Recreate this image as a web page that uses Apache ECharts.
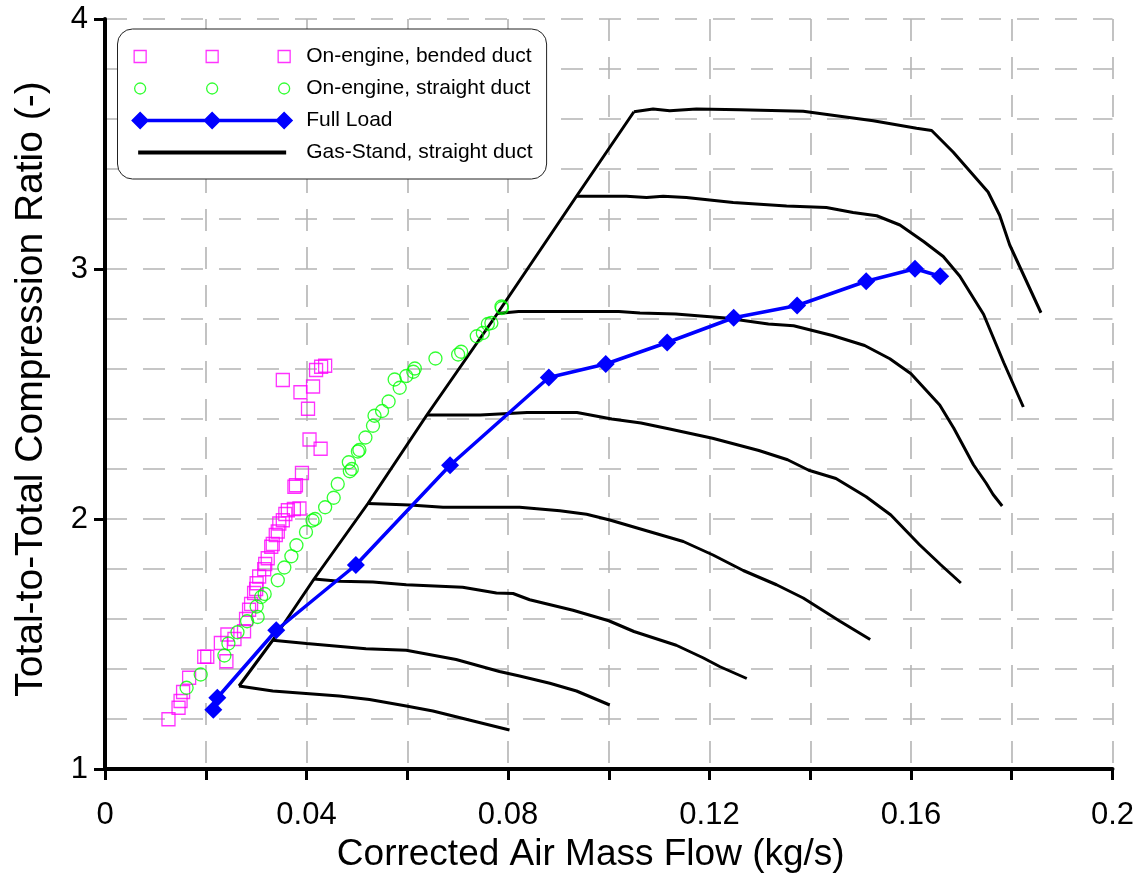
<!DOCTYPE html>
<html>
<head>
<meta charset="utf-8">
<script src="https://cdn.jsdelivr.net/npm/echarts@6/dist/echarts.min.js"></script>
<style>
html,body{margin:0;padding:0;background:#fff;}
#chart{width:1143px;height:883px;}
</style>
</head>
<body>
<div id="chart"></div>
<script>
// ---------- DATA ----------
const xTickLabels = ['0', '0.04', '0.08', '0.12', '0.16', '0.2'];
const yTickLabels = ['1', '2', '3', '4'];

const seriesNames = ['On-engine, bended duct', 'On-engine, straight duct', 'Full Load', 'Gas-Stand, straight duct'];

// On-engine, bended duct (magenta squares) [mass flow, pressure ratio]
const bendedDuct = [
  [0.0126,1.199],[0.0146,1.245],[0.0150,1.272],[0.0155,1.308],[0.0167,1.365],[0.0197,1.449],
  [0.0203,1.449],[0.0241,1.431],[0.0230,1.504],[0.0243,1.538],[0.0257,1.520],[0.0276,1.551],
  [0.0280,1.600],[0.0286,1.637],[0.0290,1.660],[0.0296,1.704],[0.0300,1.720],[0.0301,1.743],
  [0.0306,1.770],[0.0316,1.799],[0.0318,1.820],[0.0323,1.843],[0.0330,1.889],[0.0333,1.900],
  [0.0339,1.936],[0.0343,1.950],[0.0346,1.982],[0.0353,1.995],[0.0358,2.020],[0.0363,2.035],
  [0.0375,2.040],[0.0386,2.042],[0.0376,2.129],[0.0379,2.135],[0.0391,2.184],[0.0428,2.281],
  [0.0406,2.318],[0.0403,2.441],[0.0388,2.507],[0.0413,2.530],[0.0353,2.556],[0.0419,2.596],
  [0.0429,2.609],[0.0437,2.613]
];

// On-engine, straight duct (green circles)
const straightDuct = [
  [0.0162,1.325],[0.0190,1.378],[0.0237,1.454],[0.0245,1.502],[0.0263,1.547],[0.0282,1.591],
  [0.0303,1.608],[0.0301,1.650],[0.0310,1.688],[0.0317,1.700],[0.0343,1.755],[0.0356,1.806],
  [0.0370,1.851],[0.0380,1.895],[0.0399,1.948],[0.0412,1.994],[0.0417,2.000],[0.0437,2.047],
  [0.0454,2.085],[0.0462,2.140],[0.0486,2.191],[0.0490,2.200],[0.0484,2.227],[0.0502,2.270],
  [0.0505,2.276],[0.0517,2.326],[0.0532,2.373],[0.0535,2.413],[0.0550,2.432],[0.0563,2.470],
  [0.0585,2.525],[0.0575,2.558],[0.0598,2.572],[0.0612,2.589],[0.0615,2.602],[0.0656,2.642],
  [0.0701,2.658],[0.0707,2.669],[0.0738,2.731],[0.0750,2.744],[0.0760,2.780],[0.0767,2.784],
  [0.0787,2.850],[0.0788,2.844]
];

// Full Load (blue diamonds)
const fullLoadFlow  = [0.0215,0.0223,0.0340,0.0498,0.0685,0.0881,0.0994,0.1116,0.1248,0.1374,0.1511,0.1608,0.1658];
const fullLoadRatio = [1.237,1.285,1.555,1.816,2.215,2.566,2.620,2.706,2.805,2.854,2.951,3.001,2.971];

// Gas-stand speed lines
const speedLine1 = [[0.0266,1.332],[0.0333,1.312],[0.0465,1.292],[0.0525,1.278],[0.0598,1.252],[0.0651,1.232],[0.0717,1.199],[0.0803,1.156]];
const speedLine2 = [[0.0333,1.515],[0.0400,1.502],[0.0518,1.481],[0.0598,1.475],[0.0697,1.438],[0.0783,1.390],[0.0823,1.372],[0.0883,1.343],[0.0936,1.312],[0.1002,1.256]];
const speedLine3 = [[0.0415,1.760],[0.0465,1.751],[0.0532,1.748],[0.0598,1.737],[0.0710,1.727],[0.0777,1.704],[0.0810,1.702],[0.0843,1.677],[0.0929,1.635],[0.1000,1.593],[0.1050,1.550],[0.1134,1.495],[0.1187,1.445],[0.1221,1.409],[0.1274,1.362]];
const speedLine4 = [[0.0522,2.062],[0.0605,2.056],[0.0671,2.047],[0.0823,2.047],[0.0903,2.033],[0.0956,2.019],[0.1002,1.996],[0.1075,1.953],[0.1148,1.910],[0.1207,1.856],[0.1267,1.794],[0.1333,1.737],[0.1386,1.684],[0.1459,1.591],[0.1519,1.518]];
const speedLine5 = [[0.0639,2.416],[0.0745,2.416],[0.0838,2.426],[0.0937,2.426],[0.1006,2.400],[0.1064,2.384],[0.1121,2.360],[0.1206,2.323],[0.1298,2.274],[0.1355,2.237],[0.1397,2.195],[0.1451,2.162],[0.1511,2.089],[0.1560,2.016],[0.1617,1.897],[0.1659,1.817],[0.1699,1.744]];
const speedLine6 = [[0.0779,2.822],[0.0821,2.830],[0.1020,2.830],[0.1062,2.824],[0.1133,2.820],[0.1232,2.804],[0.1317,2.780],[0.1367,2.773],[0.1444,2.734],[0.1508,2.694],[0.1558,2.641],[0.1600,2.581],[0.1657,2.456],[0.1685,2.363],[0.1724,2.217],[0.1749,2.144],[0.1763,2.098],[0.1781,2.052]];
const speedLine7 = [[0.0936,3.291],[0.1035,3.291],[0.1075,3.286],[0.1108,3.291],[0.1154,3.286],[0.1247,3.266],[0.1353,3.252],[0.1432,3.246],[0.1485,3.226],[0.1532,3.213],[0.1578,3.176],[0.1625,3.110],[0.1664,3.050],[0.1697,2.971],[0.1744,2.819],[0.1784,2.626],[0.1823,2.448]];
const speedLine8 = [[0.1050,3.629],[0.1088,3.640],[0.1121,3.633],[0.1174,3.640],[0.1260,3.637],[0.1386,3.631],[0.1459,3.611],[0.1525,3.593],[0.1611,3.563],[0.1641,3.554],[0.1684,3.467],[0.1753,3.308],[0.1776,3.215],[0.1796,3.096],[0.1858,2.825]];

// ---------- CHART ----------
const speedLines = [speedLine1, speedLine2, speedLine3, speedLine4, speedLine5, speedLine6, speedLine7, speedLine8];
const surgeLine = speedLines.map(l => l[0]);
const fullLoad = fullLoadFlow.map((x, i) => [x, fullLoadRatio[i]]);

const FONT = "'Liberation Sans', Arial, sans-serif";
const gridStyle = { color: '#b4b4b4', width: 1.6, type: [22, 16] };

// legend icon paths (frame 170 x 18)
const pad = 'M0,0M170,18';
function sq(cx){ return `M${cx-6},3H${cx+6}V15H${cx-6}Z`; }
function circ(cx){ return `M${cx-5.5},9A5.5,5.5 0 1 0 ${cx+5.5},9A5.5,5.5 0 1 0 ${cx-5.5},9Z`; }
function dia(cx){ return `M${cx},0L${cx+9},9L${cx},18L${cx-9},9Z`; }
const iconSquares = 'path://' + pad + sq(9) + sq(81) + sq(153);
const iconCircles = 'path://' + pad + circ(9) + circ(81) + circ(153);
const iconDiamonds = 'path://' + pad + 'M9,7.2H153V10.8H9Z' + dia(9) + dia(81) + dia(153);
const iconLine = 'path://' + pad + 'M7,7H155V11H7Z';

const gasSeries = speedLines.concat([surgeLine]).map(d => ({
  name: seriesNames[3], type: 'line', data: d, symbol: 'none', smooth: false,
  lineStyle: { color: '#000', width: 3 }, itemStyle: { color: '#000' }, z: 2
}));

const chart = echarts.init(document.getElementById('chart'), null, { renderer: 'canvas' });
chart.setOption({
  animation: false,
  backgroundColor: '#fff',
  textStyle: { fontFamily: FONT },
  grid: { left: 105, top: 19, right: 30.5, bottom: 114, containLabel: false },
  legend: {
    orient: 'vertical', left: 117.5, top: 29,
    padding: [17, 14, 16, 13],
    itemWidth: 170, itemHeight: 18, itemGap: 11,
    backgroundColor: '#fff', borderColor: '#222', borderWidth: 1, borderRadius: 15,
    textStyle: { fontSize: 21, color: '#000', fontFamily: FONT, lineHeight: 21 },
    selectedMode: false,
    data: [
      { name: seriesNames[0], icon: iconSquares, itemStyle: { color: 'rgba(0,0,0,0)', borderColor: '#ff00ff', borderWidth: 1.3 } },
      { name: seriesNames[1], icon: iconCircles, itemStyle: { color: 'rgba(0,0,0,0)', borderColor: '#00ff00', borderWidth: 1.3 } },
      { name: seriesNames[2], icon: iconDiamonds, itemStyle: { color: '#0000ff', borderWidth: 0 } },
      { name: seriesNames[3], icon: iconLine, itemStyle: { color: '#000', borderWidth: 0 } }
    ]
  },
  xAxis: {
    type: 'value', min: 0, max: 0.2, interval: 0.02,
    name: 'Corrected Air Mass Flow (kg/s)', nameLocation: 'middle', nameGap: 66,
    nameTextStyle: { fontSize: 37, color: '#000', fontFamily: FONT, padding: [0, 36, 0, 0] },
    axisLine: { lineStyle: { color: '#000', width: 4 } },
    axisTick: { show: true, length: 11, lineStyle: { color: '#000', width: 3 } },
    axisLabel: {
      margin: 31, fontSize: 31, color: '#000', fontFamily: FONT,
      formatter: v => { const s = String(+v.toFixed(4)); return xTickLabels.includes(s) ? s : ''; }
    },
    splitLine: { show: true, lineStyle: gridStyle }
  },
  yAxis: {
    type: 'value', min: 1, max: 4, interval: 1,
    name: 'Total-to-Total Compression Ratio (-)', nameLocation: 'middle', nameGap: 54,
    nameTextStyle: { fontSize: 39, color: '#000', fontFamily: FONT, padding: [0, 0, 0, 10] },
    axisLine: { show: true, lineStyle: { color: '#000', width: 4 } },
    axisTick: { show: true, length: 11, lineStyle: { color: '#000', width: 3 } },
    axisLabel: {
      margin: 17, fontSize: 31, color: '#000', fontFamily: FONT,
      formatter: v => { const s = String(+v.toFixed(2)); return yTickLabels.includes(s) ? s : ''; }
    },
    splitLine: { show: true, lineStyle: gridStyle },
    minorTick: { show: false, splitNumber: 5 },
    minorSplitLine: { show: true, lineStyle: gridStyle }
  },
  series: gasSeries.concat([
    {
      name: seriesNames[0], type: 'scatter', data: bendedDuct, symbol: 'rect', symbolSize: 13,
      itemStyle: { color: 'rgba(0,0,0,0)', borderColor: '#ff00ff', borderWidth: 1.3 }, z: 3
    },
    {
      name: seriesNames[1], type: 'scatter', data: straightDuct, symbol: 'circle', symbolSize: 13,
      itemStyle: { color: 'rgba(0,0,0,0)', borderColor: '#00ff00', borderWidth: 1.3 }, z: 3
    },
    {
      name: seriesNames[2], type: 'line', data: fullLoad, symbol: 'diamond', symbolSize: 18,
      showAllSymbol: true,
      lineStyle: { color: '#0000ff', width: 3.5 }, itemStyle: { color: '#0000ff', borderWidth: 0 }, z: 4
    }
  ])
});
</script>
</body>
</html>
